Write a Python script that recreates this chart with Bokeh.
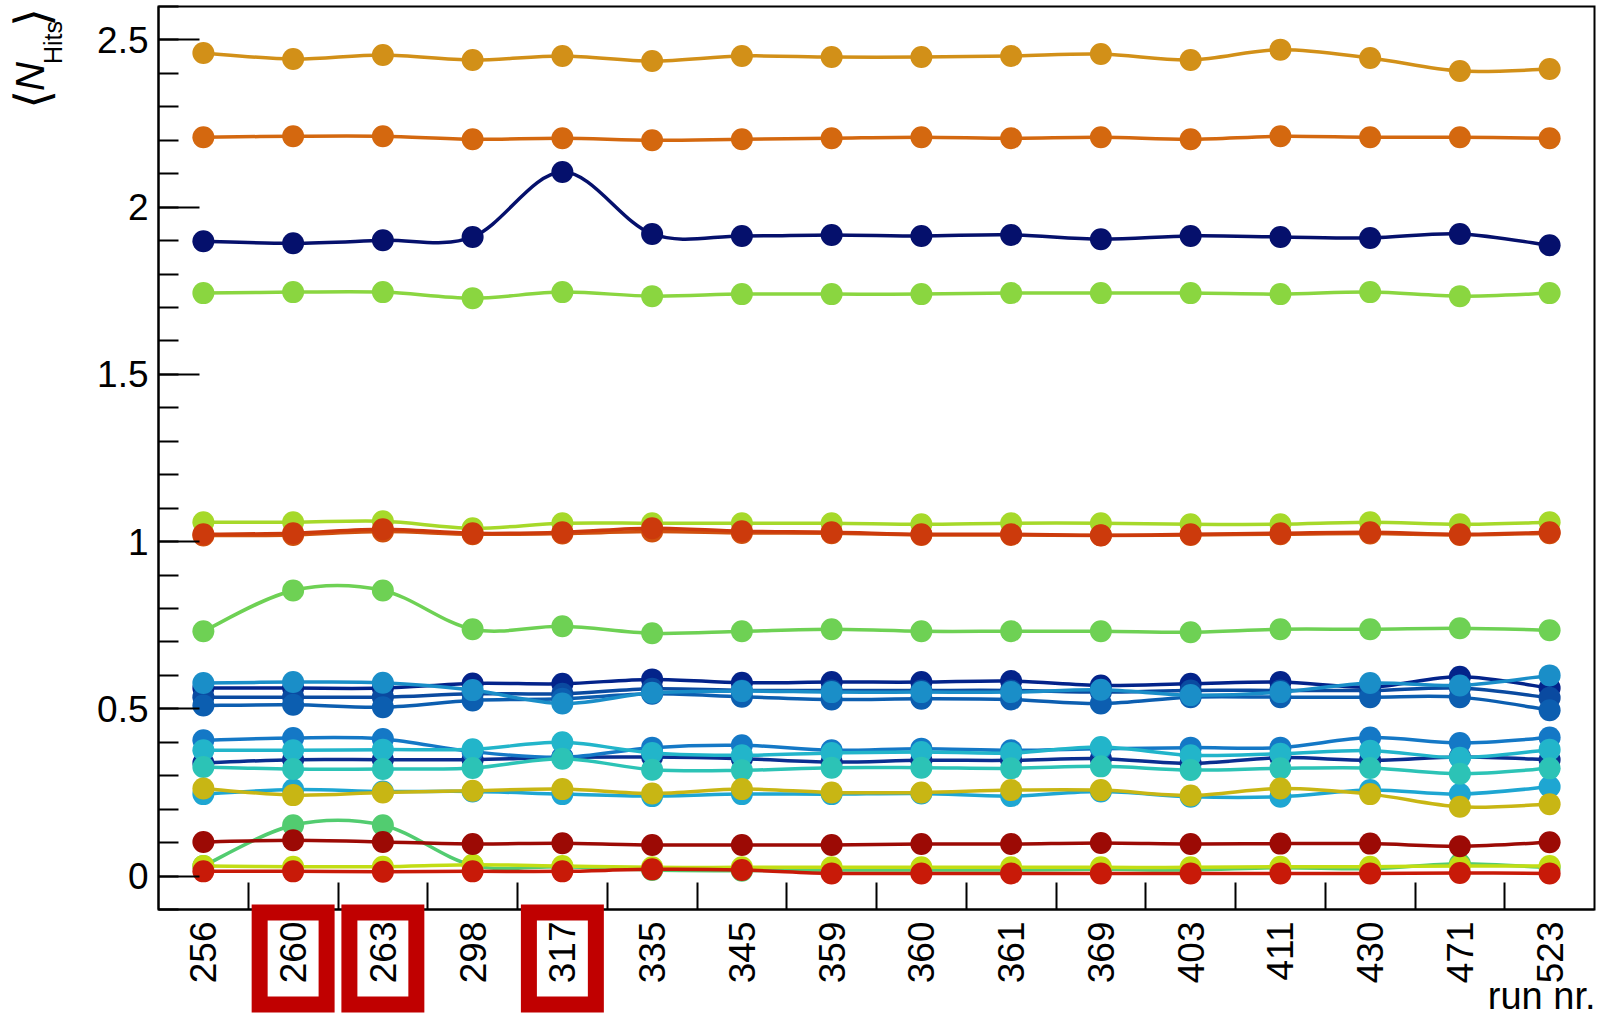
import numpy as np
from bokeh.plotting import figure
from bokeh.models import FixedTicker, NumeralTickFormatter, Label, BoxAnnotation
from bokeh.embed import file_html
from bokeh.resources import INLINE

# ---------------- data ----------------
runs = ["256", "260", "263", "298", "317", "335", "345", "359",
        "360", "361", "369", "403", "411", "430", "471", "523"]
highlighted_runs = ["260", "263", "317"]

y_ticks = [0, 0.5, 1, 1.5, 2, 2.5]

navy_top   = [1.898, 1.892, 1.901, 1.911, 2.105, 1.920, 1.914, 1.917, 1.914, 1.917, 1.904, 1.914, 1.911, 1.908, 1.920, 1.886]
navy_mid   = [0.562, 0.562, 0.562, 0.576, 0.575, 0.588, 0.578, 0.580, 0.580, 0.583, 0.570, 0.575, 0.580, 0.565, 0.596, 0.562]
navy_low   = [0.338, 0.348, 0.348, 0.348, 0.355, 0.356, 0.351, 0.341, 0.346, 0.346, 0.351, 0.337, 0.354, 0.346, 0.356, 0.348]
blue_a     = [0.535, 0.535, 0.535, 0.545, 0.545, 0.560, 0.555, 0.555, 0.555, 0.555, 0.550, 0.555, 0.555, 0.555, 0.562, 0.533]
blue_b     = [0.510, 0.512, 0.505, 0.525, 0.530, 0.545, 0.536, 0.528, 0.530, 0.528, 0.516, 0.535, 0.535, 0.535, 0.535, 0.496]
blue_c     = [0.406, 0.413, 0.410, 0.372, 0.355, 0.384, 0.391, 0.376, 0.381, 0.376, 0.381, 0.384, 0.384, 0.414, 0.398, 0.414]
lblue_a    = [0.577, 0.580, 0.578, 0.556, 0.516, 0.548, 0.553, 0.550, 0.550, 0.550, 0.557, 0.541, 0.550, 0.577, 0.570, 0.600]
lblue_b    = [0.245, 0.259, 0.253, 0.253, 0.245, 0.239, 0.245, 0.245, 0.247, 0.239, 0.253, 0.237, 0.237, 0.257, 0.245, 0.267]
cyan       = [0.376, 0.376, 0.378, 0.379, 0.400, 0.368, 0.361, 0.368, 0.371, 0.368, 0.386, 0.361, 0.366, 0.375, 0.354, 0.378]
teal       = [0.326, 0.320, 0.320, 0.323, 0.351, 0.318, 0.316, 0.324, 0.324, 0.322, 0.328, 0.317, 0.322, 0.323, 0.306, 0.322]
green_low  = [0.030, 0.152, 0.152, 0.032, 0.028, 0.018, 0.016, 0.018, 0.018, 0.018, 0.020, 0.018, 0.025, 0.022, 0.037, 0.025]
green_mid  = [0.732, 0.854, 0.854, 0.738, 0.747, 0.726, 0.732, 0.738, 0.732, 0.732, 0.732, 0.729, 0.738, 0.738, 0.741, 0.735]
lgreen_top = [1.743, 1.746, 1.746, 1.728, 1.746, 1.734, 1.740, 1.740, 1.740, 1.743, 1.743, 1.743, 1.740, 1.746, 1.734, 1.743]
ygreen_mid = [1.058, 1.058, 1.061, 1.040, 1.055, 1.055, 1.055, 1.055, 1.052, 1.055, 1.055, 1.052, 1.052, 1.058, 1.052, 1.058]
ygreen_low = [0.030, 0.028, 0.028, 0.034, 0.030, 0.026, 0.026, 0.026, 0.026, 0.026, 0.026, 0.026, 0.028, 0.028, 0.030, 0.030]
yellow     = [0.262, 0.242, 0.250, 0.255, 0.260, 0.247, 0.260, 0.250, 0.250, 0.257, 0.257, 0.241, 0.262, 0.245, 0.207, 0.215]
gold       = [2.461, 2.443, 2.455, 2.440, 2.452, 2.437, 2.452, 2.449, 2.449, 2.452, 2.458, 2.440, 2.471, 2.446, 2.407, 2.413]
orange     = [2.209, 2.212, 2.212, 2.203, 2.206, 2.200, 2.203, 2.206, 2.209, 2.206, 2.209, 2.203, 2.212, 2.209, 2.209, 2.206]
redorange_b = [1.018, 1.020, 1.030, 1.022, 1.024, 1.030, 1.026, 1.025, 1.020, 1.020, 1.018, 1.020, 1.022, 1.024, 1.020, 1.025]
redorange_a = [1.022, 1.025, 1.037, 1.025, 1.028, 1.040, 1.031, 1.028, 1.022, 1.022, 1.019, 1.022, 1.025, 1.028, 1.022, 1.028]
red        = [0.014, 0.014, 0.013, 0.014, 0.014, 0.020, 0.018, 0.008, 0.008, 0.008, 0.008, 0.008, 0.008, 0.008, 0.009, 0.008]
darkred    = [0.102, 0.107, 0.102, 0.096, 0.098, 0.093, 0.093, 0.093, 0.096, 0.096, 0.099, 0.096, 0.097, 0.097, 0.089, 0.101]

series = [
    (navy_top, "#05106c"), (navy_mid, "#03238a"), (navy_low, "#0a2e90"),
    (blue_a, "#0a4aa0"), (blue_b, "#0c5eb0"), (blue_c, "#1478c6"),
    (lblue_a, "#1a8ec8"), (lblue_b, "#1ea6d2"), (cyan, "#22b5ca"),
    (teal, "#2cc3b6"), (green_low, "#52cc70"), (green_mid, "#6ed154"),
    (lgreen_top, "#8ad640"), (ygreen_mid, "#a6d92a"), (ygreen_low, "#c2dd14"),
    (yellow, "#c8b614"), (gold, "#d29018"), (orange, "#d4680f"),
    (redorange_b, "#d0500e"), (redorange_a, "#cc3a0c"), (red, "#c81a08"),
    (darkred, "#9c0a05"),
]

FONT = "Liberation Sans"

# ---------------- geometry of the drawing box (pixels) ----------------
W, H = 1598, 1015
BOX_L, BOX_R, BOX_T, BOX_B = 158, 1594, 6, 909
X0, X1 = -0.5, len(runs) - 0.5
Y0, Y1 = -0.1, 2.6
sx = (BOX_R - BOX_L) / (X1 - X0)
sy = (BOX_B - BOX_T) / (Y1 - Y0)
x_start = X0 - BOX_L / sx
x_end = X1 + (W - BOX_R) / sx
y_start = Y0 - (H - BOX_B) / sy
y_end = Y1 + BOX_T / sy


def px_x(px):
    return X0 + (px - BOX_L) / sx


def px_y(py):
    return Y0 + (BOX_B - py) / sy


p = figure(width=W, height=H, output_backend="svg", toolbar_location=None,
           x_range=(x_start, x_end), y_range=(y_start, y_end),
           min_border=0)
p.grid.visible = False
p.outline_line_color = None
p.background_fill_color = "white"
p.border_fill_color = "white"

xi = list(range(len(runs)))
p.xaxis.fixed_location = Y0
p.xaxis.bounds = (X0, X1)
p.xaxis.ticker = FixedTicker(ticks=xi, minor_ticks=[i + 0.5 for i in xi[:-1]])
p.xaxis.major_label_overrides = {i: r for i, r in enumerate(runs)}
p.xaxis.major_label_orientation = np.pi / 2
p.xaxis.major_tick_in = 0
p.xaxis.major_tick_out = 0
p.xaxis.minor_tick_in = 27
p.xaxis.minor_tick_out = 0
p.xaxis.minor_tick_line_width = 2
p.xaxis.minor_tick_line_color = "black"
p.xaxis.major_label_standoff = 12

p.yaxis.fixed_location = X0
p.yaxis.bounds = (Y0, Y1)
p.yaxis.ticker = FixedTicker(ticks=y_ticks, minor_ticks=[round(-0.1 + 0.1 * k, 1) for k in range(28)])
p.yaxis.formatter = NumeralTickFormatter(format="0.[0]")
p.yaxis.major_tick_in = 41
p.yaxis.major_tick_out = 0
p.yaxis.minor_tick_in = 20
p.yaxis.minor_tick_out = 0
p.yaxis.major_tick_line_width = 2
p.yaxis.minor_tick_line_width = 2
p.yaxis.major_tick_line_color = "black"
p.yaxis.minor_tick_line_color = "black"
p.yaxis.major_label_standoff = 10

for ax in (p.xaxis, p.yaxis):
    ax.axis_line_width = 2
    ax.axis_line_color = "black"
    ax.major_label_text_font = FONT
    ax.major_label_text_font_size = "37px"
    ax.major_label_text_color = "black"

# frame box
p.add_layout(BoxAnnotation(left=X0, right=X1, bottom=Y0, top=Y1, fill_alpha=0,
                           line_color="black", line_alpha=1.0, line_width=2,
                           line_join="miter"))


def smooth_curve(ys, color):
    x = np.arange(len(ys), dtype=float)
    y = np.asarray(ys, dtype=float)
    n = len(x)
    xp = np.concatenate([[x[0]], x, [x[-1]]])
    yp = np.concatenate([[y[0]], y, [y[-1]]])
    cx0 = x[:-1] + (xp[2:n + 1] - xp[:n - 1]) / 6.0
    cy0 = y[:-1] + (yp[2:n + 1] - yp[:n - 1]) / 6.0
    cx1 = x[1:] - (xp[3:n + 2] - xp[1:n]) / 6.0
    cy1 = y[1:] - (yp[3:n + 2] - yp[1:n]) / 6.0
    p.bezier(x0=x[:-1], y0=y[:-1], x1=x[1:], y1=y[1:],
             cx0=cx0, cy0=cy0, cx1=cx1, cy1=cy1,
             line_color=color, line_width=3.5)
    p.scatter(x, y, size=22, fill_color=color, line_color=color, line_width=0)


for ys, col in series:
    smooth_curve(ys, col)

# red boxes around highlighted run labels
for r in highlighted_runs:
    i = runs.index(r)
    p.add_layout(BoxAnnotation(left=i - 0.373, right=i + 0.373,
                               top=px_y(912), bottom=px_y(1004),
                               fill_alpha=0, line_color="#c00000", line_alpha=1.0,
                               line_width=16, line_join="miter"))

# y axis title  <N_Hits>
p.add_layout(Label(x=px_x(31.5), y=px_y(99), text="\u27e8", angle=np.pi / 2, text_align="center",
                   text_baseline="middle", text_font="DejaVu Sans", text_font_size="48px",
                   text_color="black"))
p.add_layout(Label(x=px_x(29), y=px_y(76), text="N", angle=np.pi / 2, text_align="center",
                   text_baseline="middle", text_font=FONT, text_font_style="italic",
                   text_font_size="40px", text_color="black"))
p.add_layout(Label(x=px_x(52), y=px_y(42), text="Hits", angle=np.pi / 2, text_align="center",
                   text_baseline="middle", text_font=FONT, text_font_size="25px",
                   text_color="black"))
p.add_layout(Label(x=px_x(31.5), y=px_y(17), text="\u27e9", angle=np.pi / 2, text_align="center",
                   text_baseline="middle", text_font="DejaVu Sans", text_font_size="48px",
                   text_color="black"))

# x axis title
p.add_layout(Label(x=px_x(1595), y=px_y(995), text="run nr.", text_align="right",
                   text_baseline="middle", text_font=FONT, text_font_size="38px",
                   text_color="black"))

open("out.html", "w").write(file_html(p, INLINE))
